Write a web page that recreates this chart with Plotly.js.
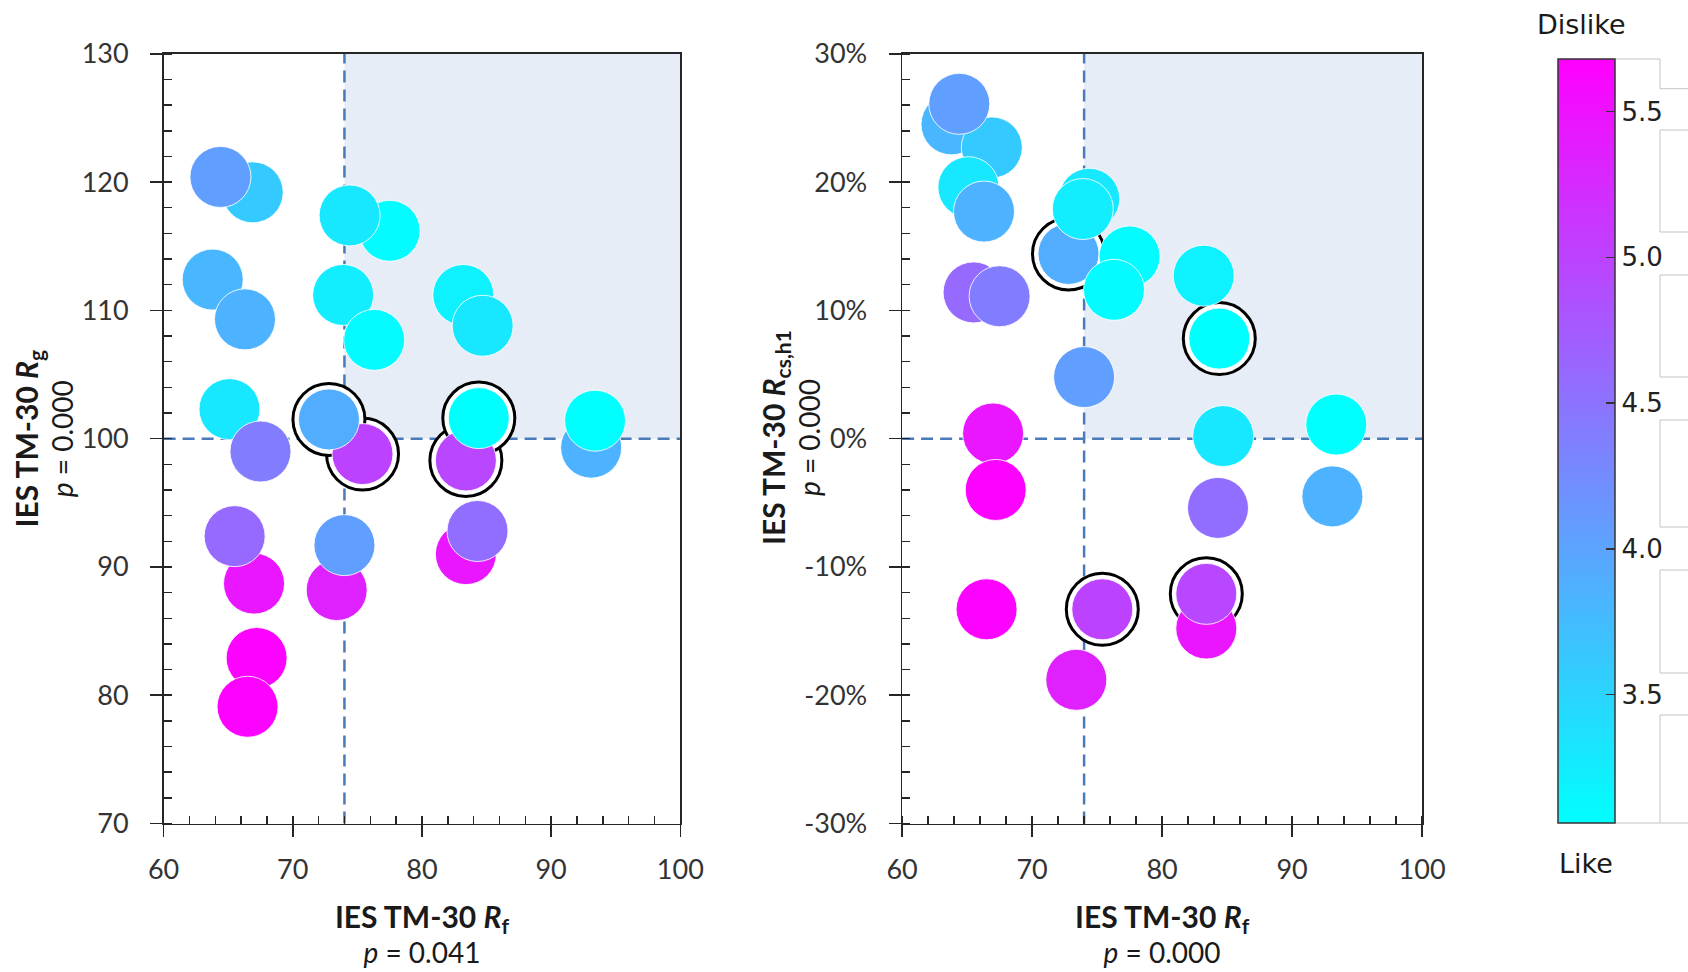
<!DOCTYPE html>
<html>
<head>
<meta charset="utf-8">
<script src="https://cdn.plot.ly/plotly-3.0.1.min.js"></script>
<style>
  html, body { margin: 0; padding: 0; background: #ffffff; }
  #chart { width: 1688px; height: 972px; }
</style>
</head>
<body>
<div id="chart"></div>
<script>
// ---- Data (one entry per light source, in drawing order) ----
const rf     = [63.8, 66.9, 64.4, 65.1, 66.3, 67.0, 65.5, 67.5, 67.2, 66.5, 75.4, 72.8, 73.4, 74.0, 77.5, 74.4, 73.9, 76.3, 83.2, 84.7, 83.4, 83.4, 84.4, 84.3, 93.1, 93.4];
const rg     = [112.4, 119.2, 120.4, 102.3, 109.3, 88.7, 92.4, 99.0, 82.9, 79.1, 98.8, 101.5, 88.2, 91.7, 116.2, 117.4, 111.2, 107.7, 111.2, 108.8, 91.0, 98.3, 101.6, 92.8, 99.3, 101.4];
const rcsh1  = [24.5, 22.7, 26.1, 19.6, 17.7, 0.4, 11.4, 11.1, -4.0, -13.3, -13.3, 14.4, -18.8, 4.8, 14.2, 18.7, 17.9, 11.6, 12.7, 0.2, -14.8, -12.1, 7.8, -5.4, -4.5, 1.1];
const rating = [3.80, 3.60, 4.05, 3.30, 3.85, 5.45, 4.60, 4.40, 5.65, 5.65, 5.00, 3.90, 5.35, 4.05, 3.10, 3.30, 3.25, 3.10, 3.20, 3.30, 5.45, 4.95, 3.05, 4.55, 3.85, 3.05];
const circled = [false, false, false, false, false, false, false, false, false, false, true, true, false, false, false, false, false, false, false, false, false, true, true, false, false, false];

// thresholds (reference values of the quadrants)
const rfThreshold = 74;
const rgThreshold = 100;
const rcsThreshold = 0;

// axis ranges / ticks
const rfRange = [60, 100];
const rgRange = [70, 130];
const rcsRange = [-30, 30];
const rcsTickVals = [-30, -20, -10, 0, 10, 20, 30];
const rcsTickText = ['-30%', '-20%', '-10%', '0%', '10%', '20%', '30%'];
const ratingRange = [3.06, 5.68];
const ratingTickVals = [3.5, 4.0, 4.5, 5.0, 5.5];
const ratingTickText = ['3.5', '4.0', '4.5', '5.0', '5.5'];

// ---- Layout helpers ----
const W = 1688, H = 972;
const px = v => v / W;
const py = v => 1 - v / H;

const AX = '#262626';
const TXT = '#333333';
const FONT = 'Lato, "Open Sans", sans-serif';
const TITLE_FONT = { family: FONT, size: 27, color: '#1a1a1a' };
const titleText = (sym, sub, p) =>
  '<span style="font-size:30px"><b>IES TM-30 <i>' + sym + '</i><sub>' + sub + '</sub></b></span><br>' +
  '<span style="font-size:28px"><i>p</i> = ' + p + '</span>';

function xAxis(domain, anchor, title) {
  return {
    domain: domain, anchor: anchor, range: rfRange, autorange: false,
    tickmode: 'linear', tick0: 60, dtick: 10,
    ticks: 'outside', ticklen: 12, tickwidth: 1.5, tickcolor: AX,
    ticklabelstandoff: 10,
    minor: { tickmode: 'linear', tick0: 60, dtick: 2, ticks: 'inside', ticklen: 8, tickwidth: 1.5, tickcolor: AX, showgrid: false },
    showline: true, linecolor: AX, linewidth: 1.5, mirror: true,
    showgrid: false, zeroline: false,
    tickfont: { family: FONT, size: 27, color: TXT },
    title: { text: title, font: TITLE_FONT, standoff: 24 },
    fixedrange: true
  };
}

const plotDomainY = [py(823.5), py(53.8)];

const shapes = [];
// shaded "good" quadrants
shapes.push({ type: 'rect', xref: 'x', yref: 'y', x0: rfThreshold, x1: rfRange[1], y0: rgThreshold, y1: rgRange[1], fillcolor: '#e7edf6', line: { width: 0 }, layer: 'below' });
shapes.push({ type: 'rect', xref: 'x2', yref: 'y2', x0: rfThreshold, x1: rfRange[1], y0: rcsThreshold, y1: rcsRange[1], fillcolor: '#e7edf6', line: { width: 0 }, layer: 'below' });
// dashed threshold lines
const dash = { color: '#4a7ab8', width: 2.5, dash: '12px,7px' };
shapes.push({ type: 'line', xref: 'x', yref: 'y', x0: rfThreshold, x1: rfThreshold, y0: rgRange[0], y1: rgRange[1], line: dash, layer: 'below' });
shapes.push({ type: 'line', xref: 'x', yref: 'y', x0: rfRange[0], x1: rfRange[1], y0: rgThreshold, y1: rgThreshold, line: dash, layer: 'below' });
shapes.push({ type: 'line', xref: 'x2', yref: 'y2', x0: rfThreshold, x1: rfThreshold, y0: rcsRange[0], y1: rcsRange[1], line: dash, layer: 'below' });
shapes.push({ type: 'line', xref: 'x2', yref: 'y2', x0: rfRange[0], x1: rfRange[1], y0: rcsThreshold, y1: rcsThreshold, line: dash, layer: 'below' });

// light grey frame pieces to the right of the colour bar
const g = { color: '#c4c4c4', width: 1 };
const seg = (x0, y0, x1, y1) => ({ type: 'line', xref: 'paper', yref: 'paper', x0: px(x0), y0: py(y0), x1: px(x1), y1: py(y1), line: g });
shapes.push(seg(1615, 59, 1660, 59), seg(1660, 59, 1660, 88.7), seg(1660, 88.7, 1700, 88.7), seg(1615, 823, 1660, 823));
[[130, 232], [275, 377], [420, 527], [570, 673], [715, 823]].forEach(b => {
  shapes.push({ type: 'rect', xref: 'paper', yref: 'paper', x0: px(1660), x1: px(1700), y0: py(b[1]), y1: py(b[0]), line: g, fillcolor: 'rgba(0,0,0,0)' });
});

const ringIdx = rf.map((v, i) => i).filter(i => circled[i]);
const pick = (arr, idx) => idx.map(i => arr[i]);

const markerLine = { width: 1, color: 'rgba(255,255,255,0.85)' };

const traces = [
  { type: 'scatter', mode: 'markers', xaxis: 'x', yaxis: 'y', x: pick(rf, ringIdx), y: pick(rg, ringIdx),
    marker: { size: 72, color: '#ffffff', line: { width: 3, color: '#000000' } }, hoverinfo: 'skip', showlegend: false },
  { type: 'scatter', mode: 'markers', xaxis: 'x', yaxis: 'y', x: rf, y: rg,
    marker: { size: 61, color: rating, coloraxis: 'coloraxis', line: markerLine }, showlegend: false },
  { type: 'scatter', mode: 'markers', xaxis: 'x2', yaxis: 'y2', x: pick(rf, ringIdx), y: pick(rcsh1, ringIdx),
    marker: { size: 72, color: '#ffffff', line: { width: 3, color: '#000000' } }, hoverinfo: 'skip', showlegend: false },
  { type: 'scatter', mode: 'markers', xaxis: 'x2', yaxis: 'y2', x: rf, y: rcsh1,
    marker: { size: 61, color: rating, coloraxis: 'coloraxis', line: markerLine }, showlegend: false },
  // tick marks on the left edge of the colour bar (transparent helper scale)
  { type: 'scatter', mode: 'markers', xaxis: 'x', yaxis: 'y', x: [null], y: [null], hoverinfo: 'skip', showlegend: false,
    marker: { color: [ratingRange[0]], cmin: ratingRange[0], cmax: ratingRange[1],
      colorscale: [[0, 'rgba(0,0,0,0)'], [1, 'rgba(0,0,0,0)']], showscale: true,
      colorbar: {
        x: px(1556.7), xanchor: 'left', xpad: 0,
        y: py(441), yanchor: 'middle', ypad: 0,
        len: 764, lenmode: 'pixels', thickness: 1, thicknessmode: 'pixels',
        outlinewidth: 0, bgcolor: 'rgba(0,0,0,0)', borderwidth: 0,
        tickmode: 'array', tickvals: ratingTickVals, ticktext: ratingTickText,
        ticks: 'outside', ticklen: 9, tickwidth: 1.5, tickcolor: '#333333', showticklabels: false
      } } }
];

const layout = {
  width: W, height: H,
  margin: { l: 0, r: 0, t: 0, b: 0, pad: 0 },
  paper_bgcolor: '#ffffff', plot_bgcolor: 'rgba(0,0,0,0)',
  font: { family: FONT, color: TXT },
  showlegend: false,
  hovermode: false,
  xaxis: xAxis([px(163.6), px(680.3)], 'y', titleText('R', 'f', '0.041')),
  xaxis2: xAxis([px(902.1), px(1422.1)], 'y2', titleText('R', 'f', '0.000')),
  yaxis: {
    domain: plotDomainY, anchor: 'x', range: rgRange, autorange: false,
    tickmode: 'linear', tick0: 70, dtick: 10,
    ticks: 'outside', ticklen: 12, tickwidth: 1.5, tickcolor: AX, ticklabelstandoff: 16,
    minor: { tickmode: 'linear', tick0: 70, dtick: 2, ticks: 'inside', ticklen: 8, tickwidth: 1.5, tickcolor: AX, showgrid: false },
    showline: true, linecolor: AX, linewidth: 1.5, mirror: true, showgrid: false, zeroline: false,
    tickfont: { family: FONT, size: 27, color: TXT },
    title: { text: titleText('R', 'g', '0.000'), font: TITLE_FONT, standoff: 0 },
    fixedrange: true
  },
  yaxis2: {
    domain: plotDomainY, anchor: 'x2', range: rcsRange, autorange: false,
    tickmode: 'array', tickvals: rcsTickVals, ticktext: rcsTickText,
    ticks: 'outside', ticklen: 12, tickwidth: 1.5, tickcolor: AX, ticklabelstandoff: 16,
    minor: { tickmode: 'linear', tick0: -30, dtick: 2, ticks: 'inside', ticklen: 8, tickwidth: 1.5, tickcolor: AX, showgrid: false },
    showline: true, linecolor: AX, linewidth: 1.5, mirror: true, showgrid: false, zeroline: false,
    tickfont: { family: FONT, size: 27, color: TXT },
    fixedrange: true
  },
  coloraxis: {
    cmin: ratingRange[0], cmax: ratingRange[1],
    colorscale: [[0, '#00ffff'], [1, '#ff00ff']],
    colorbar: {
      x: px(1557.7), xanchor: 'left', xpad: 0,
      y: py(441), yanchor: 'middle', ypad: 0,
      len: 764, lenmode: 'pixels',
      thickness: 57, thicknessmode: 'pixels',
      outlinewidth: 1.5, outlinecolor: '#333333',
      tickmode: 'array', tickvals: ratingTickVals, ticktext: ratingTickText,
      ticks: 'inside', ticklen: 9, tickwidth: 1.5, tickcolor: '#333333',
      tickfont: { family: '"DejaVu Sans", sans-serif', size: 26, color: '#222222' },
      bgcolor: 'rgba(0,0,0,0)', borderwidth: 0
    }
  },
  shapes: shapes,
  annotations: [
    { xref: 'paper', yref: 'paper', x: px(790), y: py(438), textangle: -90,
      text: titleText('R', 'cs,h1', '0.000'),
      showarrow: false, xanchor: 'center', yanchor: 'middle', font: TITLE_FONT },
    { xref: 'paper', yref: 'paper', x: px(1581), y: py(24), text: 'Dislike', showarrow: false, xanchor: 'center', yanchor: 'middle',
      font: { family: '"DejaVu Sans", sans-serif', size: 27, color: '#1a1a1a' } },
    { xref: 'paper', yref: 'paper', x: px(1586), y: py(863), text: 'Like', showarrow: false, xanchor: 'center', yanchor: 'middle',
      font: { family: '"DejaVu Sans", sans-serif', size: 27, color: '#1a1a1a' } }
  ]
};

Plotly.newPlot('chart', traces, layout, { displayModeBar: false, staticPlot: true });
</script>
</body>
</html>
